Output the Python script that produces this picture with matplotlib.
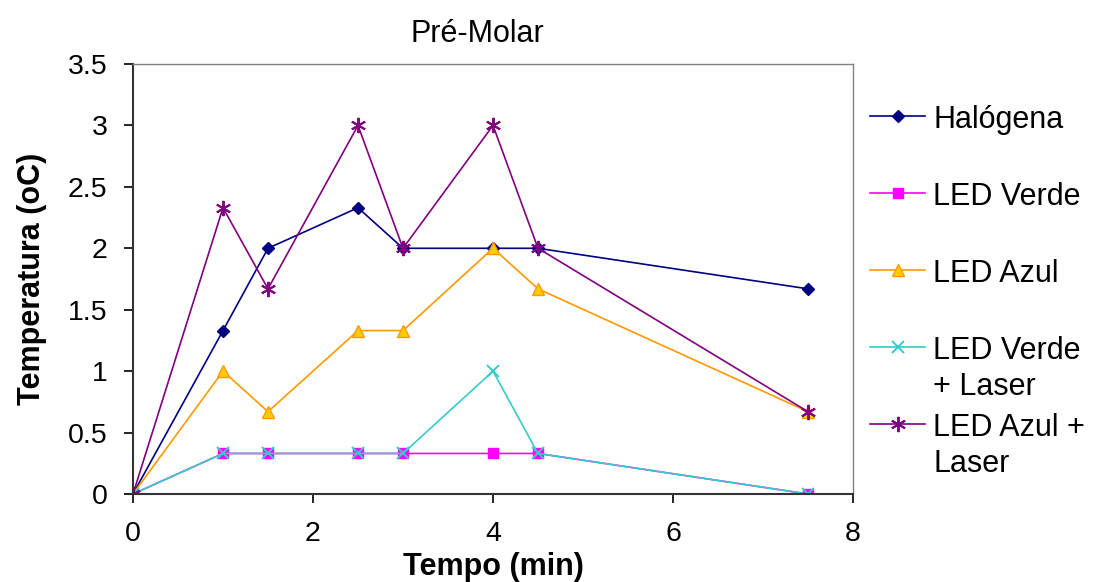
import numpy as np
import matplotlib.pyplot as plt
from matplotlib.lines import Line2D

plt.rcParams['font.family'] = ['Liberation Sans', 'DejaVu Sans']

tempo = [0, 1, 1.5, 2.5, 3, 4, 4.5, 7.5]

halogena = [0, 1.33, 2.0, 2.33, 2.0, 2.0, 2.0, 1.67]
led_verde = [0, 0.33, 0.33, 0.33, 0.33, 0.33, 0.33, 0]
led_azul = [0, 1.0, 0.67, 1.33, 1.33, 2.0, 1.67, 0.67]
led_verde_laser = [0, 0.33, 0.33, 0.33, 0.33, 1.0, 0.33, 0]
led_azul_laser = [0, 2.33, 1.67, 3.0, 2.0, 3.0, 2.0, 0.67]

labels = ['Halógena', 'LED Verde', 'LED Azul', 'LED Verde\n+ Laser', 'LED Azul +\nLaser']

W, H = 1095, 582
fig = plt.figure(figsize=[W / 100, H / 100], dpi=100)
ax = fig.add_axes([133 / W, (H - 494) / H, 720 / W, 430 / H])

lines = []
lines += ax.plot(tempo, halogena, color='#000080', lw=1.2, marker='D', ms=6.5)
lines += ax.plot(tempo, led_verde, color='#FF00FF', lw=1.2, marker='s', ms=7)
lines += ax.plot(tempo, led_azul, color='#FF9900', lw=1.2, marker='^', ms=8.5,
                 mfc='#FFCC00', mec='#FF9900')
lines += ax.plot(tempo, led_verde_laser, color='#33CCCC', lw=1.2, marker='x', ms=9,
                 mew=1.4)
lines += ax.plot(tempo, led_azul_laser, color='#800080', lw=1.2, marker=(6, 2, 0),
                 ms=11, mew=1.4)

ax.set_xlim(0, 8)
ax.set_ylim(0, 3.5)
ax.set_xticks([0, 2, 4, 6, 8])
ax.set_yticks(np.arange(0, 3.51, 0.5))
ax.set_yticklabels(['0', '0.5', '1', '1.5', '2', '2.5', '3', '3.5'])
ax.tick_params(labelsize=20.5, length=6.5, width=1.2, direction='out')
ax.tick_params(axis='y', pad=12)
ax.tick_params(axis='x', pad=13)

for s in ['left', 'bottom']:
    ax.spines[s].set_color('#333333')
    ax.spines[s].set_linewidth(1.5)
for s in ['top', 'right']:
    ax.spines[s].set_color('#808080')
    ax.spines[s].set_linewidth(1.0)

ax.set_title('Pré-Molar', fontsize=22, pad=16, x=0.478)
ax.set_xlabel('Tempo (min)', fontsize=22, fontweight='bold', va='top')
ax.xaxis.set_label_coords(0.5, -0.136)
ax.set_ylabel('Temperatura (oC)', fontsize=22, fontweight='bold', labelpad=15)

# legend drawn like the spreadsheet one: fixed slots, text hanging from the top
y_first = [116, 193, 270, 347, 424]
for ln, lab, yc in zip(lines, labels, y_first):
    yf = 1 - yc / H
    h = Line2D([870 / W, 925 / W], [yf, yf])
    h.update_from(ln)
    h.set_marker('None')
    h.set_transform(fig.transFigure)
    h.set_clip_on(False)
    fig.add_artist(h)
    m = Line2D([897.5 / W], [yf])
    m.update_from(ln)
    m.set_linestyle('None')
    m.set_transform(fig.transFigure)
    m.set_clip_on(False)
    fig.add_artist(m)
    fig.text(933 / W, 1 - (yc - 11) / H, lab, fontsize=22, va='top', ha='left',
             linespacing=1.28)

plt.savefig('out.png', dpi=100)
